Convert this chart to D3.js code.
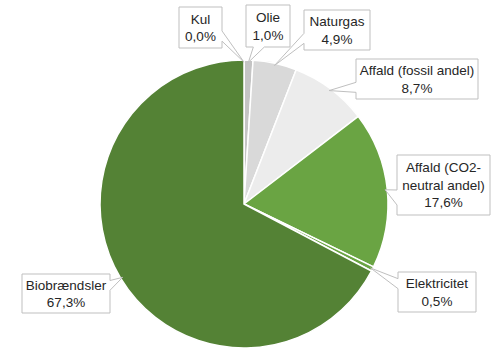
<!DOCTYPE html>
<html><head><meta charset="utf-8">
<script src="https://cdn.jsdelivr.net/npm/d3@7"></script>
<style>body{margin:0;background:#fff}svg{display:block}</style>
</head><body>
<svg id="c" width="500" height="358"></svg>
<script>
// ---- data ----
const categories = ["Kul","Olie","Naturgas","Affald (fossil andel)","Affald (CO2-neutral andel)","Elektricitet","Biobrændsler"];
const values = [0.0, 1.0, 4.9, 8.7, 17.6, 0.5, 67.3];
const labelNames = [["Kul"],["Olie"],["Naturgas"],["Affald (fossil andel)"],["Affald (CO2-","neutral andel)"],["Elektricitet"],["Biobrændsler"]];
const colors = ["#7f7f7f","#c4c4c4","#d9d9d9","#ececec","#6aa443","#6aa443","#548235"];

// ---- layout ----
const W = 500, H = 358, cx = 244, cy = 204, R = 144;
const boxes = [[179,7,43,41],[246,5,44,42],[304,10,66,40],[356,59,122,40],[397,155,93,60],[398,272,78,40],[22,274,88,39]];

const svg = d3.select("#c");
const data = categories.map((c,i)=>({name:c, value:values[i], lines:labelNames[i], color:colors[i], box:boxes[i]}));
const pie = d3.pie().sort(null).value(d=>d.value);
const arcs = pie(data);
const arc = d3.arc().innerRadius(0).outerRadius(R);
const g = svg.append("g").attr("transform",`translate(${cx},${cy})`);
g.selectAll("path").data(arcs).join("path")
  .attr("d",arc).attr("fill",d=>d.data.color)
  .attr("stroke",d=>d.data.value>0?"#fff":"none").attr("stroke-width",1.5).attr("stroke-linejoin","round");

const fmt = v => d3.format(".1f")(v).replace(".",",")+"%";

function callout(x,y,w,h,px,py){
  const hc=x+w/2, vc=y+h/2;
  const dxPos=px-hc, dyPos=py-vc;
  const dx=dxPos*h/w, dy=dyPos;
  const xg1=dxPos>0?7:2, xg2=dxPos>0?10:5;
  const yg1=dyPos>0?7:2, yg2=dyPos>0?10:5;
  const x1=x+w*xg1/12, x2=x+w*xg2/12, y1=y+h*yg1/12, y2=y+h*yg2/12;
  const l=x,t=y,r=x+w,b=y+h;
  const inside = px>=l && px<=r && py>=t && py<=b;
  let p=`M${l},${t}`;
  if(!inside && Math.abs(dy)>Math.abs(dx) && dyPos<0) p+=`L${x1},${t}L${px},${py}L${x2},${t}`;
  p+=`L${r},${t}`;
  if(!inside && Math.abs(dx)>=Math.abs(dy) && dxPos>0) p+=`L${r},${y1}L${px},${py}L${r},${y2}`;
  p+=`L${r},${b}`;
  if(!inside && Math.abs(dy)>Math.abs(dx) && dyPos>0) p+=`L${x2},${b}L${px},${py}L${x1},${b}`;
  p+=`L${l},${b}`;
  if(!inside && Math.abs(dx)>=Math.abs(dy) && dxPos<0) p+=`L${l},${y2}L${px},${py}L${l},${y1}`;
  return p+"Z";
}

const lab = svg.append("g");
arcs.forEach(a=>{
  const d=a.data; const [bx,by,bw,bh]=d.box;
  const mid=(a.startAngle+a.endAngle)/2;
  const rr = R*0.985;
  const px = cx + rr*Math.sin(mid), py = cy - rr*Math.cos(mid);
  lab.append("path").attr("d",callout(bx,by,bw,bh,px,py))
    .attr("fill","#fff").attr("stroke","#bfbfbf").attr("stroke-width",1);
  const lines = d.lines.concat([fmt(d.value)]);
  const lh = 17.5;
  const y0 = by + (bh - lines.length*lh)/2 + 13.5;
  lines.forEach((s,i)=>{
    lab.append("text").attr("x",bx+bw/2).attr("y",y0+i*lh)
      .attr("text-anchor","middle").attr("font-family","Liberation Sans, Arial, sans-serif")
      .attr("font-size",13.5).attr("fill","#262626").text(s);
  });
});
</script>
</body></html>
